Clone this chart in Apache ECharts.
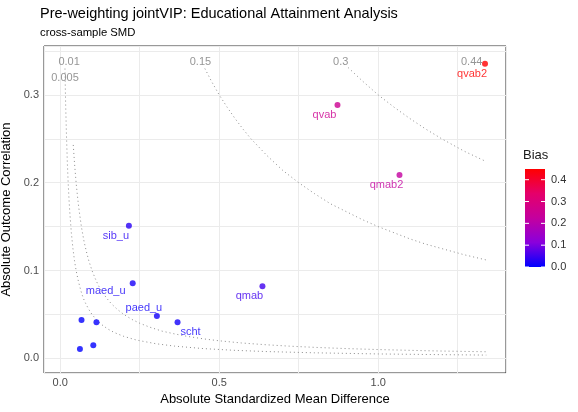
<!DOCTYPE html>
<html>
<head>
<meta charset="utf-8">
<script src="https://cdn.jsdelivr.net/npm/echarts@6/dist/echarts.min.js"></script>
<style>
  html, body { margin: 0; padding: 0; background: #fff; }
  #chart { width: 578px; height: 412px; }
</style>
</head>
<body>
<div id="chart"></div>
<script>
// covariate points: SMD (x), outcome correlation (y), bias (colour)
const pointNames = ['sib_u', 'maed_u', 'paed_u', 'scht', 'qmab', 'qvab', 'qmab2', 'qvab2', '', '', '', ''];
const smdValues = [0.216, 0.228, 0.304, 0.369, 0.636, 0.872, 1.067, 1.336, 0.067, 0.114, 0.062, 0.104];
const corValues = [0.151, 0.0854, 0.0482, 0.041, 0.082, 0.2885, 0.2088, 0.3355, 0.0436, 0.041, 0.0106, 0.0148];
const biasValues = [0.0326, 0.0195, 0.0147, 0.0151, 0.0522, 0.2516, 0.2228, 0.4482, 0.0029, 0.0047, 0.0007, 0.0015];

// dotted iso-bias reference curves
const curve005 = [[0.015, 0.33], [0.016, 0.31], [0.017, 0.29], [0.0185, 0.27], [0.02, 0.25], [0.0225, 0.222],
  [0.025, 0.2], [0.0275, 0.182], [0.03, 0.167], [0.035, 0.143], [0.04, 0.125], [0.045, 0.111], [0.05, 0.1],
  [0.057, 0.088], [0.065, 0.077], [0.072, 0.069], [0.08, 0.0625], [0.09, 0.0556], [0.1, 0.05], [0.115, 0.0435],
  [0.13, 0.0385], [0.15, 0.0333], [0.17, 0.0294], [0.2, 0.025], [0.24, 0.0208], [0.3, 0.0167], [0.36, 0.0139],
  [0.45, 0.0111], [0.55, 0.0091], [0.65, 0.0077], [0.8, 0.0063], [1.0, 0.005], [1.2, 0.0042], [1.34, 0.0037]];
const curve01 = [[0.041, 0.243], [0.045, 0.222], [0.05, 0.2], [0.055, 0.182], [0.06, 0.167], [0.067, 0.149],
  [0.075, 0.133], [0.082, 0.122], [0.09, 0.111], [0.1, 0.1], [0.11, 0.091], [0.12, 0.083], [0.13, 0.077],
  [0.145, 0.069], [0.16, 0.0625], [0.18, 0.0556], [0.2, 0.05], [0.225, 0.0444], [0.25, 0.04], [0.28, 0.0357],
  [0.32, 0.031], [0.36, 0.0278], [0.4, 0.025], [0.45, 0.0222], [0.5, 0.02], [0.57, 0.0175], [0.65, 0.0154],
  [0.72, 0.0139], [0.8, 0.0125], [0.9, 0.0111], [1.0, 0.01], [1.1, 0.0091], [1.2, 0.0083], [1.34, 0.0075]];
const curve015 = [[0.455, 0.33], [0.475, 0.316], [0.5, 0.3], [0.525, 0.286], [0.55, 0.273], [0.575, 0.261],
  [0.6, 0.25], [0.65, 0.231], [0.7, 0.214], [0.75, 0.2], [0.8, 0.1875], [0.85, 0.176], [0.9, 0.167],
  [0.95, 0.158], [1.0, 0.15], [1.05, 0.143], [1.1, 0.136], [1.15, 0.13], [1.2, 0.125], [1.27, 0.118], [1.34, 0.112]];
const curve03 = [[0.906, 0.331], [0.95, 0.316], [1.0, 0.3], [1.05, 0.286], [1.1, 0.273], [1.15, 0.261],
  [1.2, 0.25], [1.27, 0.236], [1.34, 0.224]];

const curveLabels = ['0.01', '0.005', '0.15', '0.3', '0.44'];
const curveLabelX = [0.028, 0.015, 0.441, 0.882, 1.294];
const curveLabelY = [0.337, 0.319, 0.337, 0.337, 0.337];

const biasTicks = [0, 0.1, 0.2, 0.3, 0.4];
const biasMax = 0.449;

const FONT = '"Liberation Sans", Arial, Helvetica, sans-serif';
const gradStops = [
  { offset: 0, color: '#0000ff' },
  { offset: 0.25, color: '#8a00dc' },
  { offset: 0.5, color: '#c4009e' },
  { offset: 0.75, color: '#e5006a' },
  { offset: 1, color: '#ff0000' }
];

// label placement around each point (pixels)
const labelOffset = {
  sib_u: [-13, 10], maed_u: [-27, 8], paed_u: [-13, -8], scht: [13, 10],
  qmab: [-13, 10], qvab: [-13, 10], qmab2: [-13, 10], qvab2: [-13, 10]
};

const chart = echarts.init(document.getElementById('chart'), null, { renderer: 'canvas' });

const points = smdValues.map((x, i) => {
  const name = pointNames[i];
  const item = { value: [x, corValues[i], biasValues[i]], name: name };
  if (name) {
    item.label = { show: true, offset: labelOffset[name] };
  }
  return item;
});

const dotted = { color: '#8c8c8c', width: 1, type: [1, 3] };
const curveSeries = [curve005, curve01, curve015, curve03].map(c => ({
  type: 'line',
  data: c,
  showSymbol: false,
  smooth: false,
  silent: true,
  lineStyle: dotted,
  z: 1
}));

// colour bar geometry
const barX = 525, barTop = 169, barH = 98, barW = 20;
const barY = v => barTop + barH - v / biasMax * barH;

const legendGraphics = [
  { type: 'text', left: 523, top: 149, style: { text: 'Bias', font: '13px ' + FONT, fill: '#1a1a1a' } },
  {
    type: 'rect', shape: { x: barX, y: barTop, width: barW, height: barH },
    style: { fill: new echarts.graphic.LinearGradient(0, 1, 0, 0, gradStops) }
  }
];
biasTicks.forEach(v => {
  const y = barY(v);
  legendGraphics.push({ type: 'line', shape: { x1: barX, y1: y, x2: barX + 4, y2: y }, style: { stroke: '#fff', lineWidth: 1 } });
  legendGraphics.push({ type: 'line', shape: { x1: barX + barW - 4, y1: y, x2: barX + barW, y2: y }, style: { stroke: '#fff', lineWidth: 1 } });
  legendGraphics.push({
    type: 'text', x: 551, y: y,
    style: { text: v.toFixed(1), font: '11px ' + FONT, fill: '#333', textVerticalAlign: 'middle' }
  });
});

const option = {
  animation: false,
  backgroundColor: '#fff',
  title: {
    text: 'Pre-weighting jointVIP: Educational Attainment Analysis',
    subtext: 'cross-sample SMD',
    left: 35,
    top: 1,
    itemGap: 6,
    textStyle: { fontFamily: FONT, fontSize: 14.5, fontWeight: 'normal', color: '#000' },
    subtextStyle: { fontFamily: FONT, fontSize: 11.3, color: '#000' }
  },
  grid: {
    left: 44, right: 72, top: 46, bottom: 39,
    outerBoundsMode: 'none', containLabel: false,
    show: true, borderColor: '#333', borderWidth: 1, backgroundColor: 'transparent'
  },
  xAxis: {
    type: 'value',
    min: -0.051, max: 1.402,
    minInterval: 0.25, maxInterval: 0.25,
    name: 'Absolute Standardized Mean Difference',
    nameLocation: 'middle', nameGap: 20,
    nameTextStyle: { fontFamily: FONT, fontSize: 13, color: '#000' },
    axisLine: { show: false }, axisTick: { show: false },
    axisLabel: {
      fontFamily: FONT, fontSize: 11, color: '#4d4d4d', margin: 4,
      formatter: v => (Math.abs(v / 0.5 - Math.round(v / 0.5)) < 1e-6 ? v.toFixed(1) : '')
    },
    splitLine: { lineStyle: { color: '#ebebeb', width: 1 } }
  },
  yAxis: {
    type: 'value',
    min: -0.0167, max: 0.3557,
    minInterval: 0.05, maxInterval: 0.05,
    name: 'Absolute Outcome Correlation',
    nameLocation: 'middle', nameGap: 24,
    nameTextStyle: { fontFamily: FONT, fontSize: 13, color: '#000' },
    axisLine: { show: false }, axisTick: { show: false },
    axisLabel: {
      fontFamily: FONT, fontSize: 11, color: '#4d4d4d', margin: 5,
      formatter: v => (Math.abs(v / 0.1 - Math.round(v / 0.1)) < 1e-6 ? v.toFixed(1) : '')
    },
    splitLine: { lineStyle: { color: '#ebebeb', width: 1 } }
  },
  visualMap: {
    show: false,
    type: 'continuous',
    min: 0, max: biasMax,
    dimension: 2,
    seriesIndex: 5,
    inRange: { color: gradStops.map(s => s.color) }
  },
  series: curveSeries.concat([
    {
      type: 'scatter',
      data: curveLabels.map((t, i) => ({ value: [curveLabelX[i], curveLabelY[i]], name: t })),
      symbolSize: 0,
      silent: true,
      label: {
        show: true, position: 'inside', formatter: '{b}',
        fontFamily: FONT, fontSize: 11, color: '#7a7a7a'
      },
      z: 2
    },
    {
      type: 'scatter',
      data: points,
      symbolSize: 6,
      label: {
        show: false, position: 'inside', formatter: '{b}',
        fontFamily: FONT, fontSize: 11, color: 'inherit'
      },
      z: 3
    }
  ]),
  graphic: legendGraphics
};

chart.setOption(option);
</script>
</body>
</html>
